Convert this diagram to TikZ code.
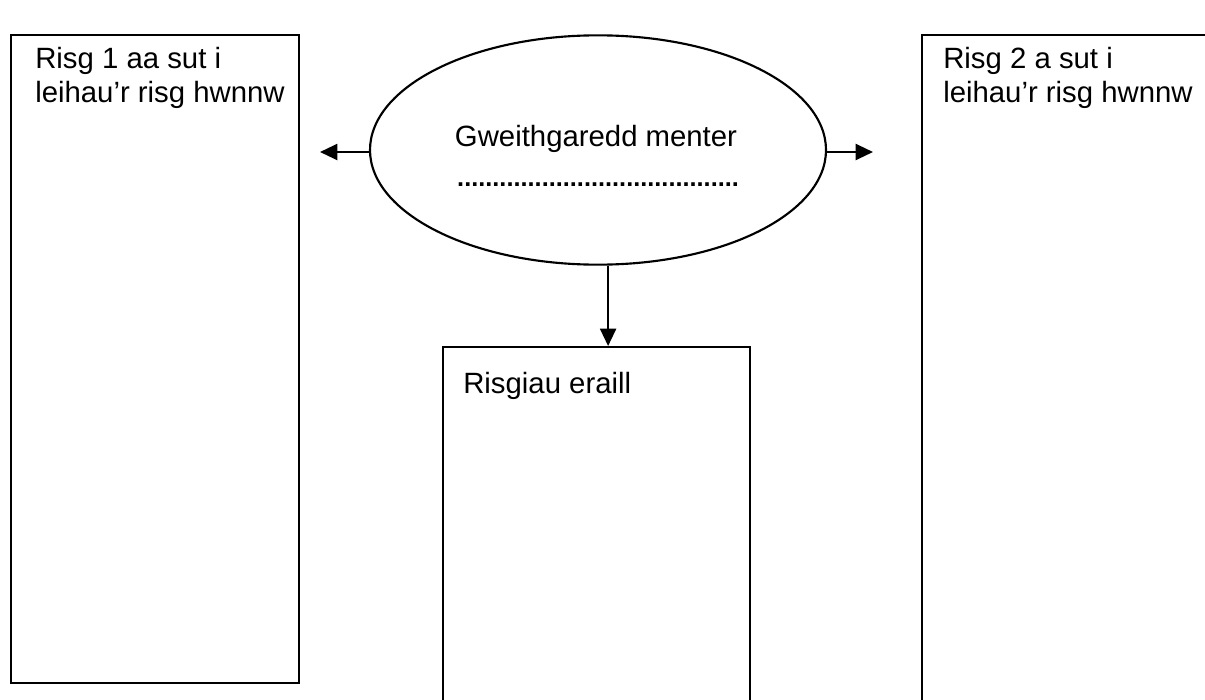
\documentclass[tikz,border=0pt]{standalone}
\usepackage{fontspec}
\setmainfont{Liberation Sans}
\usetikzlibrary{arrows.meta,shapes.geometric}

\tikzset{
	blwch/.style={draw, line width=1.8pt, anchor=north west, inner sep=0pt},
	testun/.style={anchor=north west, align=left, inner sep=0pt, font=\fontsize{22pt}{25.5pt}\selectfont},
	saeth/.style={line width=1.6pt, -{Triangle[length=13pt, width=12pt]}}
}

\begin{document}
\begin{tikzpicture}[x=0.75pt, y=-0.75pt]
		%%%%% START %%%%%
		\useasboundingbox (0, 0) rectangle (1205, 699);
		
		% y blychau
		\node[blwch, minimum width=216pt, minimum height=486pt] (risgun) at (10, 34) {};
		\node[blwch, minimum width=216pt, minimum height=510pt] (risgdau) at (921, 34) {};
		\node[blwch, minimum width=230pt, minimum height=270pt] (eraill) at (442, 346) {};
		
		% yr hirgylch
		\node[ellipse, draw, line width=1.6pt, inner sep=0pt, minimum width=342pt, minimum height=172pt] (menter) at (598, 150) {};
		
		% testun
		\node[testun] (testunun) at (35, 47) {Risg 1 aa sut i\\leihau’r risg hwnnw};
		\node[testun] (testundau) at (943, 47) {Risg 2 a sut i\\leihau’r risg hwnnw};
		\node[testun] (testuneraill) at (463, 372) {Risgiau eraill};
		\node[testun, anchor=north] (testunmenter) at (596, 125) {Gweithgaredd menter};
		\node[anchor=base, inner sep=0pt, font=\fontsize{19pt}{19pt}\selectfont\bfseries] (dotiau) at (598, 186) {........................................};
		
		% saethau
		\coordinate (chwith) at (320, 152);
		\coordinate (dde) at (873, 152);
		\draw[saeth] (menter.west |- chwith) -- (chwith);
		\draw[saeth] (menter.east |- dde) -- (dde);
		\draw[saeth] (menter.275) -- (menter.275 |- eraill.north);
		
		%%%%% END %%%%%
\end{tikzpicture}
\end{document}
